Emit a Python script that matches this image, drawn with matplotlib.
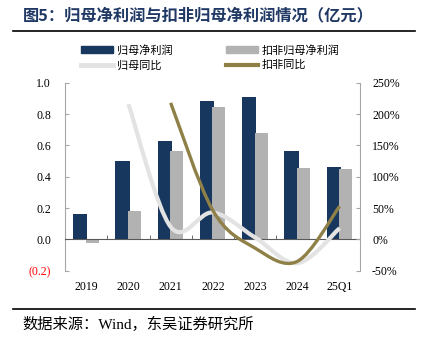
from matplotlib import pyplot as plt
from matplotlib.path import Path
from matplotlib.patches import PathPatch
from matplotlib.lines import Line2D
from matplotlib.patches import Patch
import numpy as np

plt.rcParams['font.family'] = ['Liberation Serif', 'Noto Sans CJK SC']

years = ['2019', '2020', '2021', '2022', '2023', '2024', '25Q1']
net_profit = [0.162, 0.50, 0.626, 0.885, 0.912, 0.566, 0.46]
net_profit_deducted = [-0.02, 0.18, 0.566, 0.846, 0.681, 0.453, 0.449]
# growth in %, first points missing
yoy_net = [None, 216, 20, 43, 3, -38, 18]
yoy_deducted = [None, None, 218, 46, -14, -35, 53]

NAVY = '#17375e'
GRAY = '#b2b2b2'
LIGHT = '#e3e3e3'
GOLD = '#8f8048'
CJK = ['Noto Sans CJK SC', 'DejaVu Sans']
SERIF_CJK = ['Liberation Serif', 'Noto Sans CJK SC']


def smooth_path(xs, ys):
    # bezier path through the points, like excel "smoothed line"
    pts = list(zip(xs, ys))
    verts = [pts[0]]
    codes = [Path.MOVETO]
    n = len(pts)
    for i in range(n - 1):
        p0 = pts[i - 1] if i > 0 else pts[i]
        p1 = pts[i]
        p2 = pts[i + 1]
        p3 = pts[i + 2] if i + 2 < n else pts[i + 1]
        c1 = (p1[0] + (p2[0] - p0[0]) / 6, p1[1] + (p2[1] - p0[1]) / 6)
        c2 = (p2[0] - (p3[0] - p1[0]) / 6, p2[1] - (p3[1] - p1[1]) / 6)
        verts += [c1, c2, p2]
        codes += [Path.CURVE4] * 3
    return Path(verts, codes)


fig = plt.figure(figsize=(4.28, 3.38), dpi=100)
ax = fig.add_axes([0.152, 0.199, 0.688, 0.556])
ax2 = ax.twinx()

x = np.arange(len(years))
ax.bar(x - 0.14, net_profit, width=0.34, color=NAVY, zorder=2)
ax.bar(x + 0.14, net_profit_deducted, width=0.31, color=GRAY, zorder=2)

for vals, col, lw in [(yoy_net, LIGHT, 3.0), (yoy_deducted, GOLD, 2.4)]:
    xs = [i for i, v in enumerate(vals) if v is not None]
    ys = [v for v in vals if v is not None]
    ax2.add_patch(PathPatch(smooth_path(xs, ys), facecolor='none', edgecolor=col,
                            lw=lw, capstyle='butt', zorder=3))

ax.set_xlim(-0.5, 6.47)
ax.set_ylim(-0.2, 1.0)
ax2.set_ylim(-50, 250)

ax.set_yticks([-0.2, 0, 0.2, 0.4, 0.6, 0.8, 1.0])
ax.set_yticklabels(['(0.2)', '0.0', '0.2', '0.4', '0.6', '0.8', '1.0'])
ax.get_yticklabels()[0].set_color('red')
ax2.set_yticks([-50, 0, 50, 100, 150, 200, 250])
ax2.set_yticklabels([f'{v}%' for v in [-50, 0, 50, 100, 150, 200, 250]])

for a in (ax, ax2):
    a.spines['top'].set_visible(False)
    a.spines['left'].set_color('#a6a6a6')
    a.spines['right'].set_color('#a6a6a6')
    a.spines['bottom'].set_visible(False)
ax2.spines['left'].set_visible(False)
ax.spines['right'].set_visible(False)

ax.spines['bottom'].set_visible(True)
ax.spines['bottom'].set_position(('data', 0))
ax.spines['bottom'].set_color('#595959')
ax.spines['bottom'].set_zorder(4)

ax.set_xticks(x)
ax.set_xticklabels(years)
ax.set_xticks(np.arange(0.5, 6, 1), minor=True)
ax.tick_params(axis='x', which='major', length=0, pad=30, labelsize=8.5)
ax.tick_params(axis='x', which='minor', direction='in', length=3, color='#595959')
ax.tick_params(axis='y', direction='in', length=3, color='#a6a6a6', pad=10, labelsize=8.5)
ax2.tick_params(axis='y', direction='in', length=3, color='#a6a6a6', pad=9, labelsize=8.5)

handles = [Patch(color=NAVY), Line2D([], [], color=LIGHT, lw=3.5),
           Patch(color=GRAY), Line2D([], [], color=GOLD, lw=3)]
labels = ['归母净利润', '归母同比', '扣非归母净利润', '扣非同比']
fig.legend(handles, labels, ncol=2, loc='center left', bbox_to_anchor=(0.165, 0.83),
           frameon=False, prop={'family': CJK, 'size': 8}, handlelength=2.9,
           handleheight=0.6, handletextpad=0.35, columnspacing=4.8, labelspacing=0.4)

fig.text(0.053, 0.955, '图5：归母净利润与扣非归母净利润情况（亿元）', family=CJK,
         fontsize=11.7, fontweight='bold', color='#1f3864', va='center')
fig.add_artist(Line2D([0.03, 0.97], [0.908, 0.908], color='black', lw=1.2))
fig.add_artist(Line2D([0.03, 0.97], [0.085, 0.085], color='black', lw=1.2))
fig.text(0.052, 0.04, '数据来源：Wind，东吴证券研究所', family=SERIF_CJK, fontsize=11,
         va='center')

fig.savefig('out.png', dpi=100)
